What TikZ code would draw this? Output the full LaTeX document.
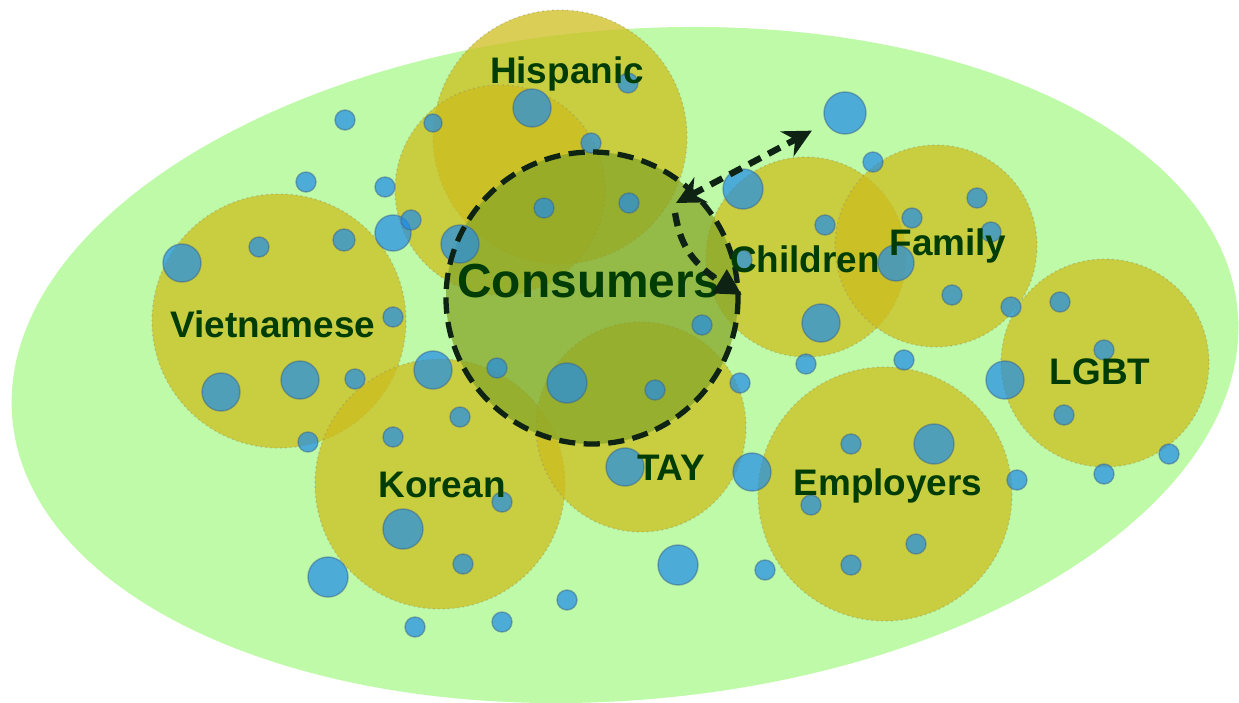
\documentclass[tikz,border=0pt]{standalone}
\usepackage{fontspec}
\setmainfont{Liberation Sans}
\usetikzlibrary{arrows.meta,bending}

\definecolor{bggreen}{RGB}{190,250,168}
\definecolor{grpyellow}{RGB}{205,190,30}
\definecolor{consgreen}{RGB}{135,165,40}
\definecolor{dotblue}{RGB}{30,140,235}
\definecolor{dotedge}{RGB}{60,100,140}
\definecolor{lblgreen}{RGB}{0,60,5}
\definecolor{dashcol}{RGB}{15,35,20}

\tikzstyle{grp} = [fill=grpyellow, fill opacity=0.75, draw=gray, draw opacity=0.35, densely dotted, thin]
\tikzstyle{cons} = [fill=consgreen, fill opacity=0.75]
\tikzstyle{consline} = [draw=dashcol, line width=1.5pt, dash pattern=on 4.6pt off 2.4pt]
\tikzstyle{spot} = [fill=dotblue, fill opacity=0.7, draw=dotedge, draw opacity=0.5, line width=0.4pt]
\tikzstyle{lbl} = [anchor=base, text=lblgreen, font=\fontsize{10.5}{12}\selectfont\bfseries]
\tikzstyle{arrow} = [draw=dashcol, line width=1.8pt, dash pattern=on 3.8pt off 2.4pt]

\begin{document}
\begin{tikzpicture}[x=0.01cm, y=-0.01cm]
\useasboundingbox (0,0) rectangle (1239,703);

%% Background
\fill[bggreen, rotate around={5:(625,365)}] (625,365) ellipse (615 and 335);

%% Groups
\path[grp] (560,137) circle (127);
\path[grp] (500,190) circle (105);
\path[grp] (279,321) circle (127);
\path[grp] (440,484) circle (125);
\path[grp] (641,427) circle (105);
\path[grp] (806,257) circle (100);
\path[grp] (936,246) circle (101);
\path[grp] (1105,363) circle (104);
\path[grp] (885,494) circle (127);

%% Consumers
\path[cons] (592,298) circle (146);

%% Members
\foreach \x/\y/\rad in {345/120/10, 433/123/9, 532/108/19, 591/143/10, 628/83/10,
  306/182/10, 385/187/10, 393/233/18, 411/220/10, 460/244/19, 182/263/19,
  259/247/10, 344/240/11, 393/317/10, 544/208/10, 629/203/10, 702/325/10,
  497/368/10, 567/383/20, 655/390/10, 433/370/19, 460/417/10, 393/437/10,
  740/383/10, 743/189/20, 873/162/10, 825/225/10, 912/218/10, 977/198/10,
  991/232/10, 896/263/18, 821/323/19, 952/295/10, 1011/307/10, 1060/302/10,
  1104/350/10, 742/260/10, 221/392/19, 300/380/19, 355/379/10, 308/442/10,
  502/502/10, 403/529/20, 463/564/10, 328/577/20, 415/627/10, 502/622/10,
  567/600/10, 625/467/19, 806/364/10, 904/360/10, 1005/380/19, 1064/415/10,
  752/472/19, 851/444/10, 934/444/20, 1017/480/10, 811/505/10, 916/544/10,
  851/565/10, 678/565/20, 765/570/10, 1104/474/10, 1169/454/10}
  \path[spot] (\x,\y) circle (\rad);
\node (dot_out) [spot, circle, inner sep=0pt, minimum size=0.42cm] at (845,113) {};

\draw[consline] (592,298) circle (146);

%% Names
\node (lbl_his) [lbl] at (567,83) {Hispanic};
\node (lbl_con) [lbl, font=\fontsize{13.6}{16}\selectfont\bfseries] at (589,297) {Consumers};
\node (lbl_chi) [lbl] at (805,272) {Children};
\node (lbl_fam) [lbl] at (948,255) {Family};
\node (lbl_vie) [lbl] at (273,337) {Vietnamese};
\node (lbl_kor) [lbl] at (442,497) {Korean};
\node (lbl_tay) [lbl] at (671,480) {TAY};
\node (lbl_emp) [lbl] at (888,495) {Employers};
\node (lbl_lgb) [lbl] at (1100,384) {LGBT};

%% Arrows
\coordinate (con_top) at (676,203);
\coordinate (con_bend) at (675,213);
\coordinate (con_side) at (742,295);
\draw [arrow, {Stealth[length=8pt,width=8pt]}-{Stealth[length=8pt,width=8pt]}, shorten >=4.5pt] (con_top) -- (dot_out);
\draw [arrow, -{Triangle[length=7.5pt,width=7.5pt]}] (con_bend) .. controls (681,248) and (693,268) .. (con_side);
\end{tikzpicture}
\end{document}
